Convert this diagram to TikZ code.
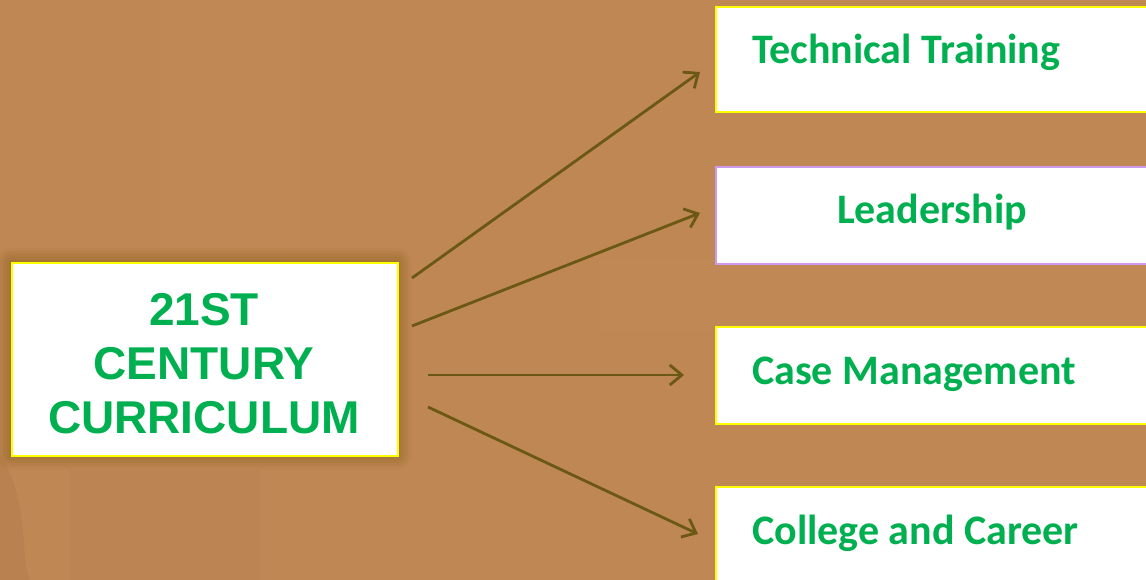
\documentclass[tikz,border=0pt]{standalone}
\usepackage{fontspec}
\setmainfont{Liberation Sans}
\newfontfamily\carlito{Carlito}
\usetikzlibrary{arrows.meta,calc}
\definecolor{wood}{RGB}{191,135,84}
\definecolor{woodlight}{RGB}{200,145,92}
\definecolor{wooddark}{RGB}{170,118,68}
\definecolor{glow}{RGB}{150,104,35}
\definecolor{grn}{RGB}{0,176,80}
\definecolor{arr}{RGB}{107,88,20}
\definecolor{ylw}{RGB}{255,255,0}
\definecolor{lav}{RGB}{204,153,238}
\tikzset{
  whitebox/.style={draw=ylw, line width=2pt, fill=white, rectangle, inner sep=0pt, anchor=north west},
  sidetext/.style={text=grn, font=\carlito\bfseries\fontsize{42}{48}\selectfont, inner sep=0pt},
  maintext/.style={text=grn, font=\bfseries\fontsize{46}{54}\selectfont, align=center, inner sep=0pt},
  link/.style={draw=arr, line width=2.8pt, -{Straight Barb[length=12pt,width=20pt,line width=2.8pt]}}
}
\begin{document}
\begin{tikzpicture}[x=1pt,y=-1pt]
\useasboundingbox (0,0) rectangle (1146,580);
\clip (0,0) rectangle (1146,580);
% background
\fill[wood] (0,0) rectangle (1146,580);
\fill[woodlight, opacity=0.18] (160,0) rectangle (300,250);
\fill[woodlight, opacity=0.15] (600,260) rectangle (1146,330);
\fill[wooddark, opacity=0.3] (0,455) .. controls (30,500) and (20,560) .. (30,580) -- (0,580) -- cycle;
\fill[wooddark, opacity=0.12] (70,470) rectangle (260,580);
% glow around main box
\foreach \g/\o in {14/0.10,11/0.12,8/0.15,5/0.2,2/0.25}{
  \fill[glow, opacity=\o, rounded corners=\g pt] (11-\g,262-\g) rectangle (397+\g,455+\g);
}
% boxes
\node[whitebox, minimum width=386pt, minimum height=193pt] (main) at (11,262) {};
\node[maintext] (maint) at (204,363.5) {21ST\\CENTURY\\CURRICULUM};
\node[whitebox, minimum width=445pt, minimum height=105pt] (tt) at (715,6) {};
\node[sidetext, anchor=base west] (ttl) at (752,64) {Technical Training};
\node[whitebox, draw=lav, minimum width=445pt, minimum height=97pt] (ld) at (715,166) {};
\node[sidetext, anchor=base] (ldl) at (932,224) {Leadership};
\node[whitebox, minimum width=445pt, minimum height=97pt] (cm) at (715,326) {};
\node[sidetext, anchor=base west] (cml) at (752,384) {Case Management};
\node[whitebox, minimum width=445pt, minimum height=110pt] (cc) at (715,486) {};
\node[sidetext, anchor=base west] (ccl) at (752,544) {College and Career};
% connectors
\coordinate (s1) at (412,278);
\coordinate (s2) at (412,326);
\coordinate (s3) at (428,375);
\coordinate (s4) at (428,407);
\coordinate (e1) at (700,72);
\coordinate (e2) at (700,213);
\coordinate (e3) at (684,375);
\coordinate (e4) at (698,534);
\draw[link] (s1) -- (e1);
\draw[link] (s2) -- (e2);
\draw[link] (s3) -- (e3);
\draw[link] (s4) -- (e4);
\end{tikzpicture}
\end{document}
